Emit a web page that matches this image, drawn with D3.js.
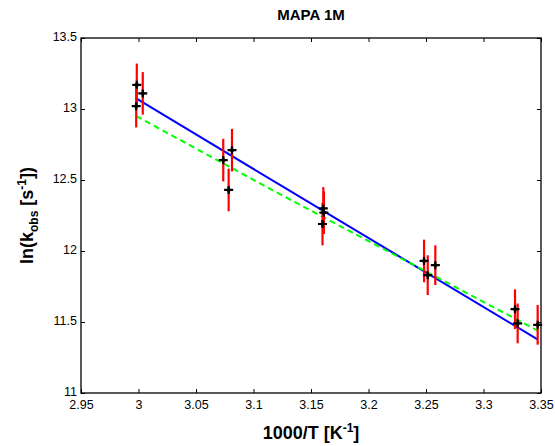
<!DOCTYPE html>
<html>
<head>
<meta charset="utf-8">
<script src="https://cdn.jsdelivr.net/npm/d3@7"></script>
<style>
    body { margin: 0; background: #fff; }
    svg { font-family: Arial, "Liberation Sans", sans-serif; }
    .axis path { display: none; }
    .axis line { stroke: #000; }
    .axis text { font-size: 12.5px; fill: #000; }
</style>
</head>
<body>
<svg class="canvas" width="555" height="446"></svg>
<script>
// measured points, ln(k_obs) vs 1000/T
var invT   = [2.9985, 2.998, 3.0037, 3.0737, 3.0813, 3.0784, 3.1607, 3.1612, 3.1600, 3.2483, 3.2515, 3.2581, 3.3274, 3.3297, 3.3471];
var lnK    = [13.17, 13.02, 13.11, 12.64, 12.71, 12.43, 12.30, 12.27, 12.19, 11.93, 11.83, 11.90, 11.59, 11.49, 11.48];
var lnKErr = [0.15, 0.15, 0.15, 0.15, 0.15, 0.15, 0.15, 0.15, 0.15, 0.15, 0.14, 0.14, 0.14, 0.14, 0.14];

// fitted lines (blue solid, green dashed)
var fitX      = [2.998, 3.123, 3.347];
var fitBlue   = [13.075, 12.465, 11.378];
var fitGreen  = [12.95, 12.40, 11.44];

var xTicks = [2.95, 3, 3.05, 3.1, 3.15, 3.2, 3.25, 3.3, 3.35];
var yTicks = [11, 11.5, 12, 12.5, 13, 13.5];

var padding = {top: 38, right: 14, bottom: 53, left: 81};
var width = 555 - padding.left - padding.right;
var height = 446 - padding.top - padding.bottom;

var svg = d3.select('.canvas');
var chart = svg.append('g')
    .attr('transform', 'translate(' + padding.left + ',' + padding.top + ')');

var x = d3.scaleLinear().domain([2.95, 3.35]).range([0, width]);
var y = d3.scaleLinear().domain([11, 13.5]).range([height, 0]);
var fmt = d3.format('~g');

// axes, matlab style: inward ticks mirrored on all four sides
chart.append('g').classed('axis', true)
    .attr('transform', 'translate(0,' + height + ')')
    .call(d3.axisBottom(x).tickValues(xTicks).tickFormat(fmt).tickSize(-4).tickPadding(7));
chart.append('g').classed('axis', true)
    .call(d3.axisTop(x).tickValues(xTicks).tickFormat('').tickSize(-4));
chart.append('g').classed('axis', true)
    .call(d3.axisLeft(y).tickValues(yTicks).tickFormat(fmt).tickSize(-4).tickPadding(4))
    .selectAll('text').attr('dy', '0.2em');
chart.append('g').classed('axis', true)
    .attr('transform', 'translate(' + width + ',0)')
    .call(d3.axisRight(y).tickValues(yTicks).tickFormat('').tickSize(-4));

chart.append('rect')
    .attr('x', 0).attr('y', 0)
    .attr('width', width).attr('height', height)
    .attr('fill', 'none').attr('stroke', '#000').attr('stroke-width', 1.3);

var line = d3.line()
    .x(function(d){ return x(d[0]); })
    .y(function(d){ return y(d[1]); });

chart.append('path')
    .datum(d3.zip(fitX, fitBlue))
    .attr('d', line)
    .attr('fill', 'none').attr('stroke', '#0000ff').attr('stroke-width', 2);

chart.append('path')
    .datum(d3.zip(fitX, fitGreen))
    .attr('d', line)
    .attr('fill', 'none').attr('stroke', '#00ff00').attr('stroke-width', 2)
    .attr('stroke-dasharray', '6,4');

var pts = d3.range(invT.length).map(function(i){
    return {x: invT[i], y: lnK[i], e: lnKErr[i]};
});

// error bars
chart.selectAll('.err').data(pts).enter().append('line')
    .classed('err', true)
    .attr('x1', function(d){ return x(d.x); })
    .attr('x2', function(d){ return x(d.x); })
    .attr('y1', function(d){ return y(d.y + d.e); })
    .attr('y2', function(d){ return y(d.y - d.e); })
    .attr('stroke', '#ff0000').attr('stroke-width', 2.2);

// plus markers on top
var mk = chart.selectAll('.mark').data(pts).enter().append('g')
    .classed('mark', true)
    .attr('transform', function(d){ return 'translate(' + x(d.x) + ',' + y(d.y) + ')'; });
mk.append('path')
    .attr('d', 'M-4.5,0H4.5M0,-4V4')
    .attr('stroke', '#000').attr('stroke-width', 2.2);
mk.append('circle').attr('r', 2).attr('fill', '#000');

// titles
svg.append('text')
    .attr('x', padding.left + width / 2).attr('y', 20)
    .attr('text-anchor', 'middle')
    .style('font-size', '15px').style('font-weight', 'bold')
    .text('MAPA 1M');

var xl = svg.append('text')
    .attr('x', padding.left + width / 2).attr('y', 439)
    .attr('text-anchor', 'middle')
    .style('font-size', '18px').style('font-weight', 'bold');
xl.append('tspan').text('1000/T [K');
xl.append('tspan').attr('dy', -7).style('font-size', '12px').text('-1');
xl.append('tspan').attr('dy', 7).text(']');

var yl = svg.append('text')
    .attr('transform', 'translate(33,' + (padding.top + height / 2) + ') rotate(-90)')
    .attr('text-anchor', 'middle')
    .style('font-size', '18px').style('font-weight', 'bold');
yl.append('tspan').text('ln(k');
yl.append('tspan').attr('dy', 5).style('font-size', '12px').text('obs');
yl.append('tspan').attr('dy', -5).text(' [s');
yl.append('tspan').attr('dy', -7).style('font-size', '12px').text('-1');
yl.append('tspan').attr('dy', 7).text('])');
</script>
</body>
</html>
